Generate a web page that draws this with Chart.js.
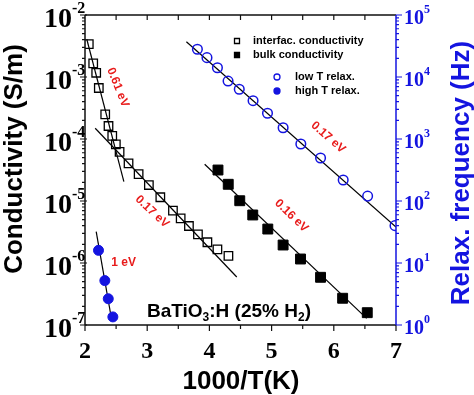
<!DOCTYPE html>
<html>
<head>
<meta charset="utf-8">
<script src="https://cdn.jsdelivr.net/npm/chart.js@4.4.1/dist/chart.umd.min.js"></script>
<style>
  html, body { margin: 0; padding: 0; background: #ffffff; }
  #wrap { width: 474px; height: 395px; }
</style>
</head>
<body>
<div id="wrap"><canvas id="chartBaTiO3" width="474" height="395"></canvas></div>
<script>
// ========================================
// DATOS
// ========================================

// interfac. conductivity (cuadrados vacíos, eje izquierdo, S/m)
const interfacX = [2.061, 2.132, 2.180, 2.222, 2.325, 2.378, 2.438, 2.496, 2.556, 2.700,
                   2.862, 3.027, 3.211, 3.414, 3.538, 3.671, 3.816, 3.968, 4.129, 4.306];
const interfacY = [3.4e-3, 1.66e-3, 1.17e-3, 6.65e-4, 2.5e-4, 1.62e-4, 1.12e-4, 8.2e-5, 6.2e-5, 4.05e-5,
                   2.72e-5, 1.81e-5, 1.15e-5, 6.98e-6, 5.26e-6, 3.95e-6, 2.9e-6, 2.16e-6, 1.66e-6, 1.3e-6];

// bulk conductivity (cuadrados llenos, eje izquierdo, S/m)
const bulkX = [4.138, 4.303, 4.488, 4.697, 4.939, 5.185, 5.465, 5.787, 6.142, 6.538];
const bulkY = [3.16e-5, 1.86e-5, 1.01e-5, 5.95e-6, 3.53e-6, 1.95e-6, 1.16e-6, 5.88e-7, 2.7e-7, 1.58e-7];

// low T relax. (círculos vacíos, eje derecho, Hz)
const lowTX = [3.807, 3.961, 4.129, 4.300, 4.480, 4.702, 4.934, 5.185, 5.470, 5.787, 6.151, 6.544, 6.984];
const lowTY = [2.8e4, 2.05e4, 1.41e4, 8.6e3, 6.35e3, 4.15e3, 2.6e3, 1.52e3, 830, 494, 218, 120, 40];

// high T relax. (círculos llenos, eje derecho, Hz)
const highTX = [2.217, 2.319, 2.374, 2.448];
const highTY = [16, 5.2, 2.65, 1.35];

// rectas de ajuste (extremos)
const fit061X = [2.029, 2.625];
const fit061Y = [4.06e-3, 2.05e-5];
const fit017aX = [2.164, 4.44];
const fit017aY = [1.49e-4, 5.94e-7];
const fit016X = [3.924, 6.528];
const fit016Y = [3.91e-5, 1.28e-7];
const fit017bX = [3.63, 7.0];
const fit017bY = [3.71e4, 38];
const fit1eVX = [2.180, 2.432];
const fit1eVY = [32, 1.16];

// ticks
const xTicks = [2, 3, 4, 5, 6, 7];
const xMinorTicks = [2.5, 3.5, 4.5, 5.5, 6.5];
const yDecades = [-7, -6, -5, -4, -3, -2];
const y1Decades = [0, 1, 2, 3, 4, 5];

// energías de activación (etiquetas rojas)
const eaLabels = ['0.61 eV', '0.17 eV', '0.17 eV', '0.16 eV', '1 eV'];
const eaX = [2.528, 3.079, 5.91, 5.32, 2.62];
const eaY = [6.78e-4, 6.71e-6, 1.06e-4, 5.77e-6, 1.02e-6];
const eaAngle = [68, 43, 41, 44, 0];

const AZUL = '#1414e0';
const ROJO = '#e81c1c';

function puntos(xs, ys) {
    return xs.map((x, i) => ({ x: x, y: ys[i] }));
}

function recta(xs, ys, eje) {
    return {
        label: '',
        data: puntos(xs, ys),
        yAxisID: eje,
        showLine: true,
        borderColor: '#000000',
        borderWidth: 1.2,
        pointRadius: 0,
        fill: false
    };
}

// ========================================
// PLUGIN: marco, ticks, etiquetas, leyenda
// ========================================
const ejesPlugin = {
    id: 'ejesPlugin',
    afterDraw(chart) {
        const { ctx, chartArea: a, scales } = chart;
        const sx = scales.x, sy = scales.y, sy1 = scales.y1;
        ctx.save();

        // marco
        ctx.lineWidth = 1.5;
        ctx.strokeStyle = '#111111';
        ctx.beginPath();
        ctx.moveTo(a.left, a.top); ctx.lineTo(a.right, a.top);
        ctx.moveTo(a.left, a.top); ctx.lineTo(a.left, a.bottom);
        ctx.moveTo(a.left, a.bottom); ctx.lineTo(a.right, a.bottom);
        ctx.stroke();
        ctx.strokeStyle = AZUL;
        ctx.beginPath();
        ctx.moveTo(a.right, a.top); ctx.lineTo(a.right, a.bottom);
        ctx.stroke();

        // ticks eje x (abajo hacia fuera, arriba hacia dentro)
        ctx.lineWidth = 1.2;
        ctx.strokeStyle = '#111111';
        ctx.beginPath();
        xTicks.forEach(v => {
            const px = sx.getPixelForValue(v);
            ctx.moveTo(px, a.bottom); ctx.lineTo(px, a.bottom + 6);
        });
        xMinorTicks.forEach(v => {
            const px = sx.getPixelForValue(v);
            ctx.moveTo(px, a.bottom); ctx.lineTo(px, a.bottom + 4);
            ctx.moveTo(px, a.top); ctx.lineTo(px, a.top + 5);
        });
        xTicks.slice(1, -1).forEach(v => {
            const px = sx.getPixelForValue(v);
            ctx.moveTo(px, a.top); ctx.lineTo(px, a.top + 5);
        });
        ctx.stroke();

        // ticks eje izquierdo (log)
        ctx.beginPath();
        yDecades.forEach(d => {
            const py = sy.getPixelForValue(Math.pow(10, d));
            ctx.moveTo(a.left - 5, py); ctx.lineTo(a.left + 2, py);
            if (d < -2) {
                for (let k = 2; k <= 9; k++) {
                    const pm = sy.getPixelForValue(k * Math.pow(10, d));
                    ctx.moveTo(a.left - 3, pm); ctx.lineTo(a.left, pm);
                }
            }
        });
        ctx.stroke();

        // ticks eje derecho (log, azul)
        ctx.strokeStyle = AZUL;
        ctx.beginPath();
        y1Decades.forEach(d => {
            const py = sy1.getPixelForValue(Math.pow(10, d));
            ctx.moveTo(a.right, py); ctx.lineTo(a.right + 6, py);
            if (d < 5) {
                for (let k = 2; k <= 9; k++) {
                    const pm = sy1.getPixelForValue(k * Math.pow(10, d));
                    ctx.moveTo(a.right, pm); ctx.lineTo(a.right + 3, pm);
                }
            }
        });
        ctx.stroke();

        // etiquetas eje x
        ctx.fillStyle = '#000000';
        ctx.font = 'bold 24px "Liberation Serif"';
        ctx.textAlign = 'center';
        ctx.textBaseline = 'alphabetic';
        xTicks.forEach(v => {
            ctx.fillText(String(v), sx.getPixelForValue(v), a.bottom + 33);
        });

        // etiquetas eje izquierdo 10^n
        yDecades.forEach(d => {
            const py = sy.getPixelForValue(Math.pow(10, d));
            ctx.font = 'bold 28px "Liberation Serif"';
            ctx.textAlign = 'right';
            ctx.fillText('10', 72, py + 12);
            ctx.font = 'bold 16px "Liberation Serif"';
            ctx.textAlign = 'left';
            ctx.fillText(String(d), 72, py - 2);
        });

        // etiquetas eje derecho 10^n
        ctx.fillStyle = AZUL;
        y1Decades.forEach(d => {
            const py = sy1.getPixelForValue(Math.pow(10, d));
            ctx.font = 'bold 20px "Liberation Serif"';
            ctx.textAlign = 'left';
            ctx.fillText('10', 404, py + 9);
            ctx.font = 'bold 12px "Liberation Serif"';
            ctx.fillText(String(d), 424, py - 2);
        });

        // títulos
        ctx.font = 'bold 26px "Liberation Sans"';
        ctx.textAlign = 'center';
        ctx.fillStyle = '#000000';
        ctx.fillText('1000/T(K)', 241, 389);

        ctx.save();
        ctx.translate(22, 159);
        ctx.rotate(-Math.PI / 2);
        ctx.fillText('Conductivity (S/m)', 0, 0);
        ctx.restore();

        ctx.save();
        ctx.fillStyle = AZUL;
        ctx.translate(469, 173);
        ctx.rotate(-Math.PI / 2);
        ctx.fillText('Relax. frequency (Hz)', 0, 0);
        ctx.restore();

        // energías de activación
        ctx.fillStyle = ROJO;
        ctx.font = 'bold 12px "Liberation Sans"';
        ctx.textAlign = 'center';
        ctx.textBaseline = 'middle';
        eaLabels.forEach((t, i) => {
            ctx.save();
            ctx.translate(sx.getPixelForValue(eaX[i]), sy.getPixelForValue(eaY[i]));
            ctx.rotate(eaAngle[i] * Math.PI / 180);
            ctx.fillText(t, 0, 0);
            ctx.restore();
        });

        // muestra: BaTiO3:H (25% H2)
        ctx.fillStyle = '#000000';
        ctx.textAlign = 'left';
        ctx.textBaseline = 'alphabetic';
        const partes = [['BaTiO', 0], ['3', 1], [':H (25% H', 0], ['2', 1], [')', 0]];
        let cx = 147;
        const by = 317;
        partes.forEach(([t, sub]) => {
            ctx.font = sub ? 'bold 12px "Liberation Sans"' : 'bold 19px "Liberation Sans"';
            ctx.fillText(t, cx, sub ? by + 4 : by);
            cx += ctx.measureText(t).width;
        });

        // leyenda
        const ds = chart.data.datasets;
        const items = [
            { i: 0, mx: 237, my: 41, tx: 253 },
            { i: 1, mx: 237, my: 55, tx: 253 },
            { i: 2, mx: 277, my: 77, tx: 295 },
            { i: 3, mx: 277, my: 91, tx: 295 }
        ];
        ctx.font = 'bold 11px "Liberation Sans"';
        ctx.textBaseline = 'middle';
        items.forEach(it => {
            const d = ds[it.i];
            ctx.lineWidth = 1.3;
            ctx.strokeStyle = d.borderColor;
            ctx.fillStyle = d.backgroundColor;
            ctx.beginPath();
            if (d.pointStyle === 'rect') {
                ctx.rect(it.mx - 2.5, it.my - 2.5, 5, 5);
            } else {
                ctx.arc(it.mx, it.my, 3, 0, Math.PI * 2);
            }
            ctx.fill();
            ctx.stroke();
            ctx.fillStyle = '#000000';
            ctx.fillText(d.label, it.tx, it.my);
        });

        ctx.restore();
    }
};

// ========================================
// GRÁFICO
// ========================================
const ctx = document.getElementById('chartBaTiO3');

const chartBaTiO3 = new Chart(ctx, {
    type: 'scatter',
    data: {
        datasets: [
            {
                label: 'interfac. conductivity',
                data: puntos(interfacX, interfacY),
                yAxisID: 'y',
                pointStyle: 'rect',
                pointRadius: 6,
                borderColor: '#000000',
                backgroundColor: 'rgba(255,255,255,0)',
                borderWidth: 1.3
            },
            {
                label: 'bulk conductivity',
                data: puntos(bulkX, bulkY),
                yAxisID: 'y',
                pointStyle: 'rect',
                pointRadius: 7,
                borderColor: '#000000',
                backgroundColor: '#000000',
                borderWidth: 1
            },
            {
                label: 'low T relax.',
                data: puntos(lowTX, lowTY),
                yAxisID: 'y1',
                pointStyle: 'circle',
                pointRadius: 4.8,
                borderColor: AZUL,
                backgroundColor: 'rgba(255,255,255,0)',
                borderWidth: 1.5
            },
            {
                label: 'high T relax.',
                data: puntos(highTX, highTY),
                yAxisID: 'y1',
                pointStyle: 'circle',
                pointRadius: 5,
                borderColor: AZUL,
                backgroundColor: AZUL,
                borderWidth: 1
            },
            recta(fit061X, fit061Y, 'y'),
            recta(fit017aX, fit017aY, 'y'),
            recta(fit016X, fit016Y, 'y'),
            recta(fit017bX, fit017bY, 'y1'),
            recta(fit1eVX, fit1eVY, 'y1')
        ]
    },
    options: {
        responsive: false,
        animation: false,
        events: [],
        layout: { padding: { top: 15, left: 0, right: 0, bottom: 0 } },
        plugins: {
            legend: { display: false },
            tooltip: { enabled: false }
        },
        scales: {
            x: {
                type: 'linear',
                min: 2,
                max: 7,
                grid: { display: false, drawTicks: false },
                border: { display: false },
                ticks: { display: false },
                afterFit: function(scale) { scale.height = 70; }
            },
            y: {
                type: 'logarithmic',
                position: 'left',
                min: 1e-7,
                max: 1e-2,
                grid: { display: false, drawTicks: false },
                border: { display: false },
                ticks: { display: false },
                afterFit: function(scale) { scale.width = 85; }
            },
            y1: {
                type: 'logarithmic',
                position: 'right',
                min: 1,
                max: 1e5,
                grid: { display: false, drawTicks: false },
                border: { display: false },
                ticks: { display: false },
                afterFit: function(scale) { scale.width = 78; }
            }
        }
    },
    plugins: [ejesPlugin]
});

console.log('chart listo', chartBaTiO3.chartArea);
</script>
</body>
</html>
